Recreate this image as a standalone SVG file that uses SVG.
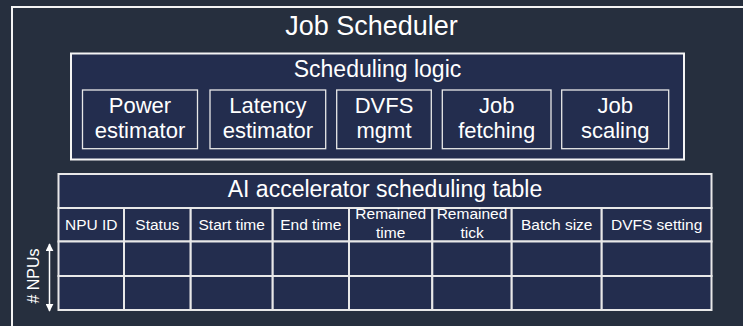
<svg xmlns="http://www.w3.org/2000/svg" width="743" height="326" viewBox="0 0 743 326">
<defs>
<style>
text{font-family:"Liberation Sans",Arial,sans-serif;fill:#ffffff;text-anchor:middle}
.frame{fill:none;stroke:#f4f4f4;stroke-width:2}
.panel{fill:#232d4e;stroke:#f4f4f4;stroke-width:2}
.sub{fill:#232d4e;stroke:#e8e8e8;stroke-width:1.3}
.cell{fill:#232d4e;stroke:#e8e8e8;stroke-width:2}
.hdr{font-size:15.5px}
.mod{font-size:22px}
</style>
<marker id="ah" viewBox="0 0 10 10" refX="9" refY="5" markerWidth="8" markerHeight="8" markerUnits="userSpaceOnUse" orient="auto-start-reverse">
<path d="M0,0 L10,5 L0,10 Z" fill="#ffffff"/>
</marker>
</defs>
<rect width="743" height="326" fill="#262f3e"/>

<g id="job-scheduler">
<rect class="frame" x="12" y="7" width="740" height="330"/>
<text x="371.5" y="35.3" font-size="27">Job Scheduler</text>
</g>

<g id="scheduling-logic">
<rect class="panel" x="71" y="53.5" width="613" height="106"/>
<text x="377.5" y="77" font-size="23">Scheduling logic</text>
</g>

<g id="power-estimator">
<rect class="sub" x="82.5" y="90" width="115" height="58.7"/>
<text class="mod" x="140" y="113.3">Power</text>
<text class="mod" x="140" y="138.3">estimator</text>
</g>
<g id="latency-estimator">
<rect class="sub" x="210" y="90" width="115.7" height="58.7"/>
<text class="mod" x="267.9" y="113.3">Latency</text>
<text class="mod" x="267.9" y="138.3">estimator</text>
</g>
<g id="dvfs-mgmt">
<rect class="sub" x="336.7" y="90" width="94.6" height="58.7"/>
<text class="mod" x="384" y="113.3">DVFS</text>
<text class="mod" x="384" y="138.3">mgmt</text>
</g>
<g id="job-fetching">
<rect class="sub" x="442.3" y="90" width="108.7" height="58.7"/>
<text class="mod" x="496.7" y="113.3">Job</text>
<text class="mod" x="496.7" y="138.3">fetching</text>
</g>
<g id="job-scaling">
<rect class="sub" x="561.7" y="90" width="107" height="58.7"/>
<text class="mod" x="615.2" y="113.3">Job</text>
<text class="mod" x="615.2" y="138.3">scaling</text>
</g>

<g id="scheduling-table">
<rect class="cell" x="58.5" y="174" width="653" height="34"/>
<text x="385" y="196.7" font-size="23">AI accelerator scheduling table</text>
<g id="table-cells">
<rect class="cell" x="58.5" y="208" width="65.5" height="33.5"/>
<rect class="cell" x="124" y="208" width="66.7" height="33.5"/>
<rect class="cell" x="190.7" y="208" width="82" height="33.5"/>
<rect class="cell" x="272.7" y="208" width="76.3" height="33.5"/>
<rect class="cell" x="349" y="208" width="83.3" height="33.5"/>
<rect class="cell" x="432.3" y="208" width="79.4" height="33.5"/>
<rect class="cell" x="511.7" y="208" width="90" height="33.5"/>
<rect class="cell" x="601.7" y="208" width="109.8" height="33.5"/>

<rect class="cell" x="58.5" y="241.5" width="65.5" height="34.5"/>
<rect class="cell" x="124" y="241.5" width="66.7" height="34.5"/>
<rect class="cell" x="190.7" y="241.5" width="82" height="34.5"/>
<rect class="cell" x="272.7" y="241.5" width="76.3" height="34.5"/>
<rect class="cell" x="349" y="241.5" width="83.3" height="34.5"/>
<rect class="cell" x="432.3" y="241.5" width="79.4" height="34.5"/>
<rect class="cell" x="511.7" y="241.5" width="90" height="34.5"/>
<rect class="cell" x="601.7" y="241.5" width="109.8" height="34.5"/>

<rect class="cell" x="58.5" y="276" width="65.5" height="34"/>
<rect class="cell" x="124" y="276" width="66.7" height="34"/>
<rect class="cell" x="190.7" y="276" width="82" height="34"/>
<rect class="cell" x="272.7" y="276" width="76.3" height="34"/>
<rect class="cell" x="349" y="276" width="83.3" height="34"/>
<rect class="cell" x="432.3" y="276" width="79.4" height="34"/>
<rect class="cell" x="511.7" y="276" width="90" height="34"/>
<rect class="cell" x="601.7" y="276" width="109.8" height="34"/>
</g>
<text class="hdr" x="91.3" y="229.5">NPU ID</text>
<text class="hdr" x="157.3" y="229.5">Status</text>
<text class="hdr" x="231.7" y="229.5">Start time</text>
<text class="hdr" x="310.8" y="229.5">End time</text>
<text class="hdr" x="390.7" y="218.5">Remained</text>
<text class="hdr" x="390.7" y="238">time</text>
<text class="hdr" x="472" y="218.5">Remained</text>
<text class="hdr" x="472" y="238">tick</text>
<text class="hdr" x="556.7" y="229.5">Batch size</text>
<text class="hdr" x="656.6" y="229.5">DVFS setting</text>
</g>

<g id="connectors">
<line x1="49.5" y1="244" x2="49.5" y2="311" stroke="#ffffff" stroke-width="1.5" marker-start="url(#ah)" marker-end="url(#ah)"/>
</g>
<g id="npus-label">
<text x="0" y="0" font-size="16" transform="translate(38.5,276) rotate(-90)"># NPUs</text>
</g>
</svg>
